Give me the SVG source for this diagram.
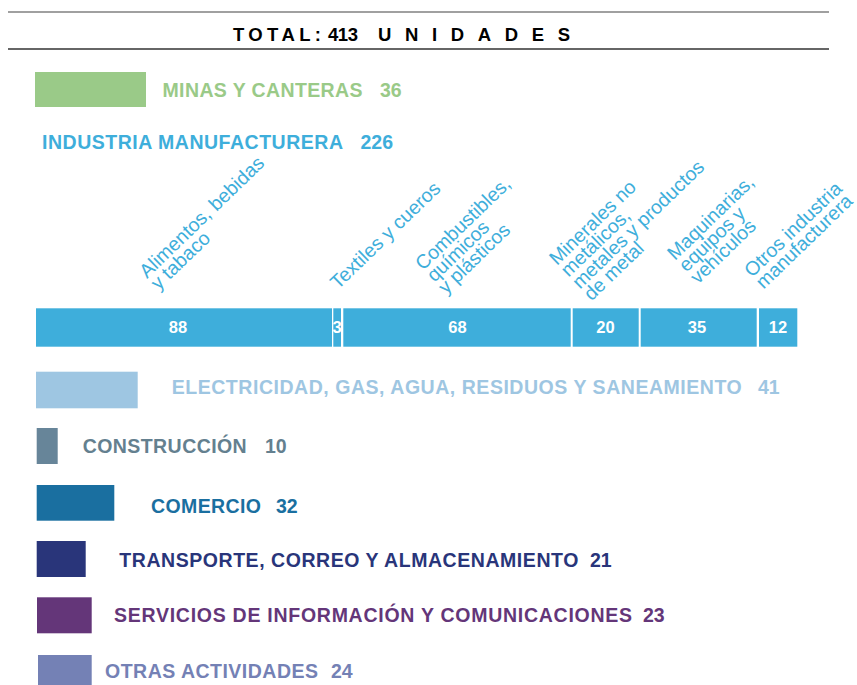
<svg xmlns="http://www.w3.org/2000/svg" width="857" height="685" viewBox="0 0 857 685">
<style>
.t{font-family:"Liberation Sans",Arial,sans-serif;font-weight:bold;font-size:19.5px}
.title{font-family:"Liberation Sans",Arial,sans-serif;font-weight:bold;font-size:18.5px;fill:#000}
.sub{font-family:"Liberation Sans",Arial,sans-serif;font-size:19.5px;fill:#3eaedb}
.num{font-family:"Liberation Sans",Arial,sans-serif;font-weight:bold;font-size:16.5px;fill:#fff;text-anchor:middle}
.seg{fill:#3eaedb}
</style>
<rect width="857" height="685" fill="#fff"/>
<g id="header">
<line x1="8" y1="12" x2="829" y2="12" stroke="#808080" stroke-width="1.5"/>
<line x1="8" y1="49" x2="829" y2="49" stroke="#333" stroke-width="1.3"/>
<text class="title" x="233" y="40.5" textLength="88" lengthAdjust="spacing">TOTAL:</text>
<text class="title" x="328" y="40.5" textLength="30" lengthAdjust="spacing">413</text>
<text class="title" x="378" y="40.5" textLength="192" lengthAdjust="spacing">UNIDADES</text>
</g>
<g id="minas">
<rect x="35" y="72" width="111" height="35" fill="#9aca88"/>
<text class="t" x="162.5" y="97" fill="#9aca88" textLength="200" lengthAdjust="spacing">MINAS Y CANTERAS</text>
<text class="t" x="380" y="97" fill="#9aca88">36</text>
</g>
<g id="industria">
<text class="t" x="42" y="149" fill="#3eaedb" textLength="301" lengthAdjust="spacing">INDUSTRIA MANUFACTURERA</text>
<text class="t" x="360.5" y="149" fill="#3eaedb">226</text>
</g>
<g id="industria-labels">
<text class="sub" transform="translate(147,279) rotate(-44)"><tspan x="0" y="0">Alimentos, bebidas</tspan><tspan x="0" dy="16.5">y tabaco</tspan></text>
<text class="sub" transform="translate(338,290) rotate(-44)"><tspan x="0" y="0">Textiles y cueros</tspan></text>
<text class="sub" transform="translate(423,271) rotate(-44)"><tspan x="0" y="0">Combustibles,</tspan><tspan x="0" dy="16.5">químicos</tspan><tspan x="0" dy="16.5">y plásticos</tspan></text>
<text class="sub" transform="translate(557,266) rotate(-44)"><tspan x="0" y="0">Minerales no</tspan><tspan x="0" dy="16.5">metálicos,</tspan><tspan x="0" dy="16.5">metales y productos</tspan><tspan x="0" dy="16.5">de metal</tspan></text>
<text class="sub" transform="translate(675,261) rotate(-44)"><tspan x="0" y="0">Maquinarias,</tspan><tspan x="0" dy="16.5">equipos y</tspan><tspan x="0" dy="16.5">vehículos</tspan></text>
<text class="sub" transform="translate(752,278) rotate(-44)"><tspan x="0" y="0">Otros industria</tspan><tspan x="0" dy="16.5">manufacturera</tspan></text>
</g>
<g id="industria-bar">
<rect class="seg" x="36" y="308.3" width="296" height="38.4"/>
<rect class="seg" x="333.3" y="308.3" width="7.7" height="38.4"/>
<rect class="seg" x="343.3" y="308.3" width="227.4" height="38.4"/>
<rect class="seg" x="572.7" y="308.3" width="66" height="38.4"/>
<rect class="seg" x="640.7" y="308.3" width="116" height="38.4"/>
<rect class="seg" x="759" y="308.3" width="38.3" height="38.4"/>
<text class="num" x="178" y="333">88</text>
<text class="num" x="337" y="333">3</text>
<text class="num" x="457.5" y="333">68</text>
<text class="num" x="605.5" y="333">20</text>
<text class="num" x="697" y="333">35</text>
<text class="num" x="778" y="333">12</text>
</g>
<g id="electricidad">
<rect x="36" y="371.7" width="101.7" height="36.6" fill="#9ec6e2"/>
<text class="t" x="171.7" y="394" fill="#9ec6e2" textLength="570" lengthAdjust="spacing">ELECTRICIDAD, GAS, AGUA, RESIDUOS Y SANEAMIENTO</text>
<text class="t" x="758" y="394" fill="#9ec6e2">41</text>
</g>
<g id="construccion">
<rect x="36.7" y="428" width="21" height="36" fill="#678599"/>
<text class="t" x="82.7" y="453.3" fill="#64808f" textLength="164" lengthAdjust="spacing">CONSTRUCCIÓN</text>
<text class="t" x="265" y="453.3" fill="#64808f">10</text>
</g>
<g id="comercio">
<rect x="36.7" y="485" width="77.6" height="35.7" fill="#1a6fa0"/>
<text class="t" x="151" y="512.7" fill="#1a6fa0" textLength="110" lengthAdjust="spacing">COMERCIO</text>
<text class="t" x="276" y="512.7" fill="#1a6fa0">32</text>
</g>
<g id="transporte">
<rect x="36.7" y="541" width="49" height="36" fill="#29357a"/>
<text class="t" x="119.3" y="567" fill="#29357a" textLength="459" lengthAdjust="spacing">TRANSPORTE, CORREO Y ALMACENAMIENTO</text>
<text class="t" x="590" y="567" fill="#29357a">21</text>
</g>
<g id="servicios">
<rect x="37" y="597.3" width="54.7" height="36" fill="#643679"/>
<text class="t" x="114" y="622" fill="#643679" textLength="518" lengthAdjust="spacing">SERVICIOS DE INFORMACIÓN Y COMUNICACIONES</text>
<text class="t" x="643" y="622" fill="#643679">23</text>
</g>
<g id="otras">
<rect x="38" y="655" width="53.7" height="30" fill="#7481b5"/>
<text class="t" x="105" y="678.3" fill="#7481b5" textLength="213" lengthAdjust="spacing">OTRAS ACTIVIDADES</text>
<text class="t" x="331" y="678.3" fill="#7481b5">24</text>
</g>
</svg>
